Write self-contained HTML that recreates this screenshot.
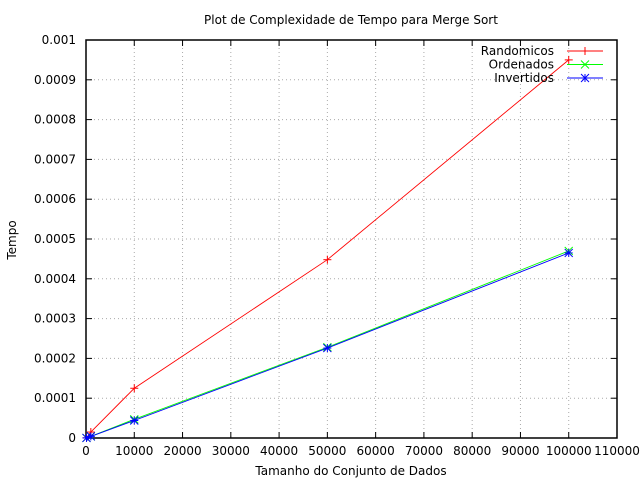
<!DOCTYPE html>
<html><head><meta charset="utf-8"><style>
body{margin:0;background:#fff}
svg{display:block;font-family:"DejaVu Sans","Liberation Sans",sans-serif;font-size:12px}
</style></head><body>
<svg id="chart" width="640" height="480" xmlns="http://www.w3.org/2000/svg">
<text x="351" y="24" text-anchor="middle">Plot de Complexidade de Tempo para Merge Sort</text>
<text x="351" y="475" text-anchor="middle">Tamanho do Conjunto de Dados</text>
<text x="16" y="240" text-anchor="middle" transform="rotate(-90 16 240)">Tempo</text>
</svg>
<script>
const xTicks=[0,10000,20000,30000,40000,50000,60000,70000,80000,90000,100000,110000];
const yTicks=[0,0.0001,0.0002,0.0003,0.0004,0.0005,0.0006,0.0007,0.0008,0.0009,0.001];
const yTickLabels=["0","0.0001","0.0002","0.0003","0.0004","0.0005","0.0006","0.0007","0.0008","0.0009","0.001"];
const sizes=[100,1000,10000,50000,100000];
const randomicos=[0.0000005,0.000015,0.000125,0.000448,0.00095];
const ordenados=[0.0000002,0.000004,0.000047,0.000228,0.00047];
const invertidos=[0.0000002,0.000004,0.000044,0.000226,0.000465];
const seriesNames=["Randomicos","Ordenados","Invertidos"];
const L=86,R=617,T=40,B=438;
const sx=v=>L+(v/110000)*(R-L);
const sy=v=>B-(v/0.001)*(B-T);
const svg=document.getElementById('chart');
const NS="http://www.w3.org/2000/svg";
function mk(tag,attrs,parent){const e=document.createElementNS(NS,tag);for(const k in attrs)e.setAttribute(k,attrs[k]);(parent||svg).appendChild(e);return e;}
xTicks.forEach((t,i)=>{
  const x=sx(t);
  if(i>0&&i<xTicks.length-1){const g=mk('line',{x1:x,x2:x,y1:T,y2:B,stroke:'#aaa','stroke-dasharray':'1,3'});}
  mk('line',{x1:x,x2:x,y1:B,y2:B-6,stroke:'#000'});
  mk('line',{x1:x,x2:x,y1:T,y2:T+6,stroke:'#000'});
  const tx=mk('text',{x:x,y:B+17,'text-anchor':'middle'});tx.textContent=t;
  
});
yTicks.forEach((t,i)=>{
  const y=sy(t);
  if(i>0&&i<yTicks.length-1){const g=mk('line',{x1:L,x2:R,y1:y,y2:y,stroke:'#aaa','stroke-dasharray':'1,3'});}
  mk('line',{x1:L,x2:L+6,y1:y,y2:y,stroke:'#000'});
  mk('line',{x1:R,x2:R-6,y1:y,y2:y,stroke:'#000'});
  const tx=mk('text',{x:L-10,y:y+4,'text-anchor':'end'});tx.textContent=yTickLabels[i];
  
});
const frame=mk('rect',{x:L,y:T,width:R-L,height:B-T,fill:'none',stroke:'#000','stroke-width':1.5});

function marker(type,x,y,c,g){
  if(type===0||type===2){mk('line',{x1:x-4,x2:x+4,y1:y,y2:y,stroke:c},g);mk('line',{x1:x,x2:x,y1:y-4,y2:y+4,stroke:c},g);}
  if(type===1||type===2){mk('line',{x1:x-4,x2:x+4,y1:y-4,y2:y+4,stroke:c},g);mk('line',{x1:x-4,x2:x+4,y1:y+4,y2:y-4,stroke:c},g);}
}
const all=[randomicos,ordenados,invertidos],colors=['#ff0000','#00ff00','#0000ff'];
all.forEach((vals,si)=>{
  const g=mk('g',{});
  
  
  mk('polyline',{points:sizes.map((s,i)=>sx(s)+','+sy(vals[i])).join(' '),fill:'none',stroke:colors[si],'stroke-width':0.9},g);
  sizes.forEach((s,i)=>marker(si,sx(s),sy(vals[i]),colors[si],g));
  const lg=mk('g',{});
  
  
  const ly=51+si*13.5;
  const t=mk('text',{x:554,y:ly+4,'text-anchor':'end'},lg);t.textContent=seriesNames[si];
  mk('line',{x1:567,x2:603,y1:ly,y2:ly,stroke:colors[si]},lg);
  marker(si,585,ly,colors[si],lg);
});
</script>
</body></html>
